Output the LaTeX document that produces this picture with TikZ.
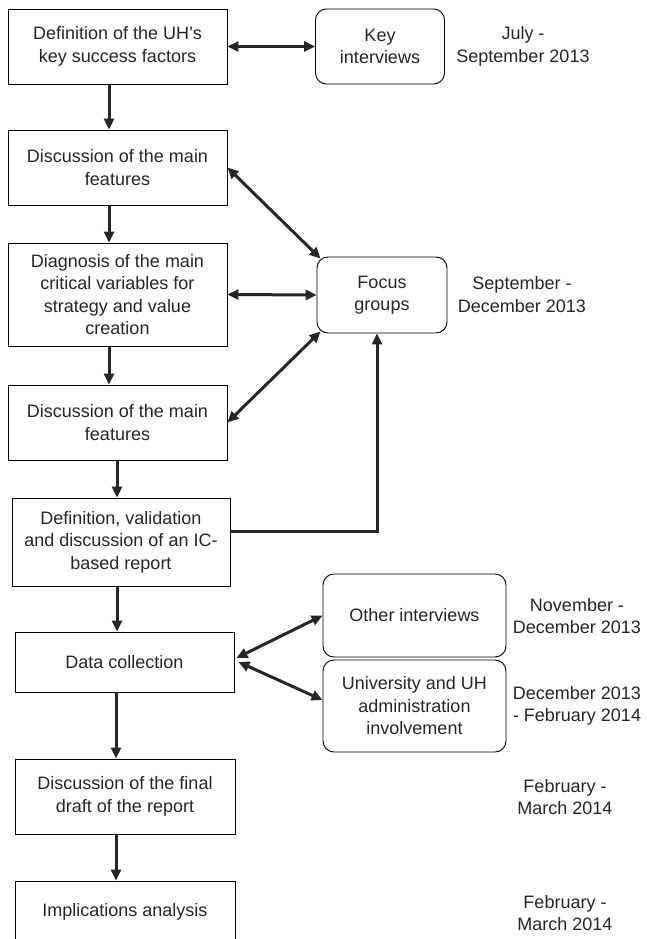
\documentclass[tikz,border=0pt]{standalone}
\usepackage{fontspec}
\setmainfont{Liberation Sans}
\usepackage{tikz}
\usetikzlibrary{arrows.meta}

\begin{document}
\begin{tikzpicture}[
  x=1pt, y=-1pt,
  font=\fontsize{18}{22.5}\selectfont,
  box/.style={draw, line width=0.9pt, align=center, inner sep=0pt, minimum width=219pt, text=black!85},
  rbox/.style={draw, line width=0.9pt, rounded corners=11pt, align=center, inner sep=0pt, text=black!85},
  date/.style={align=center, inner sep=0pt, text=black!85},
  ar/.style={-{Triangle[length=11pt,width=10pt]}, line width=3pt, black!85},
  dar/.style={{Triangle[length=11pt,width=10pt]}-{Triangle[length=11pt,width=10pt]}, line width=3pt, black!85},
]
\useasboundingbox (0,0) rectangle (647,939);
\clip (0,0) rectangle (647,939);
% left column of steps
\node[box, minimum height=75pt] (ksf) at (117.5,46.5) {Definition of the UH's\\key success factors};
\node[box, minimum height=75pt] (feat1) at (117.5,167.5) {Discussion of the main\\features};
\node[box, minimum height=103pt] (diag) at (117.5,294.5) {Diagnosis of the main\\critical variables for\\strategy and value\\creation};
\node[box, minimum height=75pt] (feat2) at (117.5,422.5) {Discussion of the main\\features};
\node[box, minimum height=88pt, minimum width=218pt] (icrep) at (121,542) {Definition, validation\\and discussion of an IC-\\based report};
\node[box, minimum height=60pt] (data) at (124.5,662) {Data collection};
\node[box, minimum height=75pt, minimum width=220pt] (draft) at (125,796.5) {Discussion of the final\\draft of the report};
\node[box, minimum height=62pt, minimum width=220pt] (impl) at (125,912) {Implications analysis};
% right column
\node[rbox, minimum width=129pt, minimum height=75pt] (keyint) at (380,46.5) {Key\\interviews};
\node[rbox, minimum width=130pt, minimum height=76pt] (focus) at (382,295) {Focus\\groups};
\node[rbox, minimum width=183pt, minimum height=83pt] (other) at (414.5,615.5) {Other interviews};
\node[rbox, minimum width=183pt, minimum height=92pt] (admin) at (414.5,706) {University and UH\\administration\\involvement};
% dates
\node[date] (d1) at (523,46.5) {July -\\September 2013};
\node[date] (d2) at (522,294.5) {September -\\December 2013};
\node[date] (d3) at (577,616) {November -\\December 2013};
\node[date] (d4) at (577,706) {December 2013\\- February 2014};
\node[date] (d5) at (565,797) {February -\\March 2014};
\node[date] (d6) at (565,913) {February -\\March 2014};
% sequence
\draw[ar] ([xshift=-8.5pt]ksf.south) -- ([xshift=-8.5pt]feat1.north);
\draw[ar] ([xshift=-8.5pt]feat1.south) -- ([xshift=-8.5pt]diag.north);
\draw[ar] ([xshift=-8.5pt]diag.south) -- ([xshift=-8.5pt]feat2.north);
\draw[ar] ([xshift=-4pt]icrep.north |- feat2.south) -- ([xshift=-4pt]icrep.north);
\draw[ar] ([xshift=-4pt]icrep.south) -- ([xshift=-4pt]icrep.south |- data.north);
\draw[ar] ([xshift=-9pt]draft.north |- data.south) -- ([xshift=-9pt]draft.north);
\draw[ar] ([xshift=-9pt]draft.south) -- ([xshift=-9pt]impl.north);
% exchanges
\draw[dar] (ksf.east) -- (keyint.west);
\draw[dar] (feat1.east) -- ([xshift=4pt,yshift=-2pt]focus.north west);
\draw[dar] (diag.east) -- (focus.west);
\draw[dar] (feat2.east) -- ([xshift=4pt,yshift=2pt]focus.south west);
\draw[ar] ([yshift=11pt]icrep.east) -| ([xshift=-5pt]focus.south);
\draw[dar] ([xshift=2pt,yshift=4pt]data.east) -- (other.west);
\draw[dar] ([xshift=4pt]data.east) -- ([yshift=6pt]admin.west);
\end{tikzpicture}
\end{document}
